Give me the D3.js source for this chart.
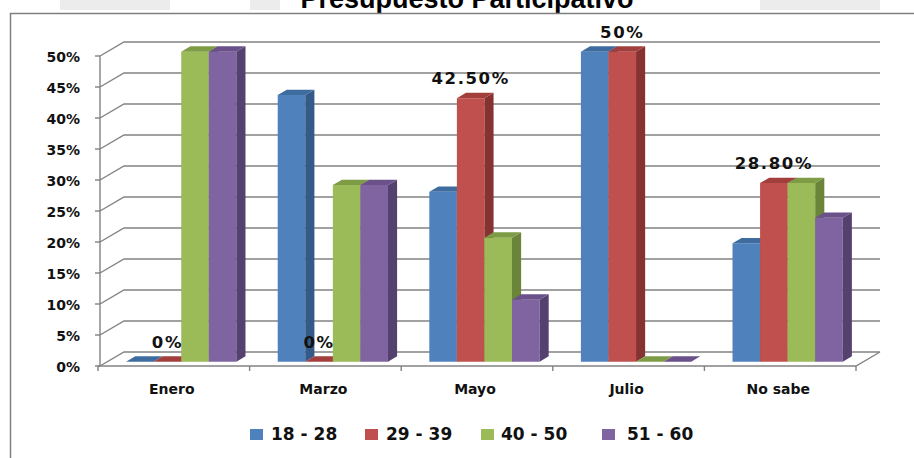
<!DOCTYPE html>
<html>
<head>
<meta charset="utf-8">
<script src="https://cdn.jsdelivr.net/npm/d3@7/dist/d3.min.js"></script>
<style>
  html, body { margin: 0; padding: 0; background: #ffffff; }
  svg { display: block; }
</style>
</head>
<body>
<div id="chart"></div>
<script>
// ---- data ----
const title = "Presupuesto Participativo";
const categories = ["Enero", "Marzo", "Mayo", "Julio", "No sabe"];
const seriesNames = ["18 - 28", "29 - 39", "40 - 50", "51 - 60"];
const s18_28 = [0, 0.43, 0.274, 0.50, 0.191];
const s29_39 = [0, 0, 0.425, 0.50, 0.288];
const s40_50 = [0.50, 0.285, 0.20, 0, 0.288];
const s51_60 = [0.50, 0.285, 0.10, 0, 0.232];
const labelSeriesIndex = 1;
const dataLabels = ["0%", "0%", "42.50%", "50%", "28.80%"];
const yTicks = [0, 0.05, 0.10, 0.15, 0.20, 0.25, 0.30, 0.35, 0.40, 0.45, 0.50];
const yTickLabels = ["0%", "5%", "10%", "15%", "20%", "25%", "30%", "35%", "40%", "45%", "50%"];

const seriesValues = [s18_28, s29_39, s40_50, s51_60];
const colors = [
  { front: "#4F81BD", top: "#3F6C9F", side: "#335A88" },
  { front: "#C0504D", top: "#A23F3C", side: "#863230" },
  { front: "#9BBB59", top: "#7E9B46", side: "#6A853A" },
  { front: "#8064A2", top: "#6A5189", side: "#55416F" }
];

// ---- layout ----
const W = 914, H = 458;
const X0 = 98, X1 = 856;           // front plane x extent
const DX = 24, DY = -14;           // full depth vector
const F0 = 0.31, F1 = 0.69;        // bar depth range (fraction)

const svg = d3.select("#chart").append("svg")
  .attr("width", W).attr("height", H);

svg.append("rect").attr("width", W).attr("height", H).attr("fill", "#ffffff");

// faint watermark blocks at top
const wm = svg.append("g").attr("fill", "#ececec");
[[60, 0, 110, 10], [250, 0, 30, 10], [760, 0, 120, 10]].forEach(r =>
  wm.append("rect").attr("x", r[0]).attr("y", r[1]).attr("width", r[2]).attr("height", r[3]));

// title
svg.append("text")
  .attr("x", 467).attr("y", 8)
  .attr("text-anchor", "middle")
  .attr("font-family", "Liberation Sans, Arial, sans-serif")
  .attr("font-weight", "bold")
  .attr("font-size", 27)
  .attr("fill", "#000")
  .text(title);

// outer border
svg.append("rect")
  .attr("x", 10.5).attr("y", 13.5)
  .attr("width", 940).attr("height", 480)
  .attr("fill", "none").attr("stroke", "#7f7f7f").attr("stroke-width", 1.5);

// scales
const y = d3.scaleLinear().domain([0, 0.5]).range([366, 56]);
const xCat = d3.scaleBand().domain(categories).range([X0, X1]).paddingInner(0).paddingOuter(0);
const xSer = d3.scaleBand().domain(seriesNames).range([0, xCat.bandwidth()]).paddingInner(0).paddingOuter(0.75);

const P = (x, yy, f) => [x + f * DX, yy + f * DY];
const pathOf = pts => "M" + pts.map(p => p[0].toFixed(2) + "," + p[1].toFixed(2)).join("L") + "Z";

const gridColor = "#828282";
const grid = svg.append("g").attr("stroke", gridColor).attr("stroke-width", 1.4).attr("fill", "none");

// back wall gridlines + side wall diagonals
yTicks.forEach(t => {
  const yy = y(t);
  const a = P(X0 + 2, yy, 0), b = P(X0 + 2, yy, 1), c = P(X1, yy, 1);
  grid.append("path").attr("d", `M${a[0]},${a[1]}L${b[0]},${b[1]}L${c[0]},${c[1]}`);
});
// floor front edge & right edge
{
  const a = P(X0, y(0), 0), b = P(X1, y(0), 0), c = P(X1, y(0), 1);
  grid.append("path").attr("d", `M${a[0]},${a[1]}L${b[0]},${b[1]}L${c[0]},${c[1]}`);
}
// front vertical axis with ticks
grid.append("line").attr("x1", X0 + 2).attr("x2", X0 + 2).attr("y1", y(0)).attr("y2", y(0.5));
yTicks.forEach(t => {
  grid.append("line").attr("x1", X0 - 3).attr("x2", X0 + 2).attr("y1", y(t)).attr("y2", y(t));
});
// category ticks
const catEdges = categories.map(c => xCat(c)).concat([X1]);
catEdges.forEach(xx => {
  grid.append("line").attr("x1", xx).attr("x2", xx).attr("y1", y(0)).attr("y2", y(0) + 5);
});

// y tick labels
svg.append("g").selectAll("text").data(yTicks).join("text")
  .attr("x", 80).attr("y", d => y(d) + 1)
  .attr("dy", "0.36em")
  .attr("text-anchor", "end")
  .attr("font-family", "DejaVu Sans, Verdana, sans-serif")
  .attr("font-weight", "bold").attr("font-size", 14)
  .attr("fill", "#111")
  .text((d, i) => yTickLabels[i]);

// x labels
svg.append("g").selectAll("text").data(categories).join("text")
  .attr("x", d => xCat(d) + xCat.bandwidth() / 2 - 2)
  .attr("y", 394)
  .attr("text-anchor", "middle")
  .attr("font-family", "DejaVu Sans, Verdana, sans-serif")
  .attr("font-weight", "bold").attr("font-size", 14)
  .attr("fill", "#111")
  .text(d => d);

// bars
const bars = svg.append("g");
categories.forEach((cat, ci) => {
  seriesNames.forEach((s, si) => {
    const v = seriesValues[si][ci];
    const xl = xCat(cat) + xSer(s);
    const xr = xl + xSer.bandwidth();
    const yb = y(0), yt = y(v);
    const col = colors[si];
    const g = bars.append("g");
    if (v > 0) {
      g.append("path").attr("d", pathOf([P(xl, yb, F0), P(xr, yb, F0), P(xr, yt, F0), P(xl, yt, F0)]))
        .attr("fill", col.front);
      g.append("path").attr("d", pathOf([P(xr, yb, F0), P(xr, yb, F1), P(xr, yt, F1), P(xr, yt, F0)]))
        .attr("fill", col.side);
    }
    g.append("path").attr("d", pathOf([P(xl, yt, F0), P(xr, yt, F0), P(xr, yt, F1), P(xl, yt, F1)]))
      .attr("fill", col.top);
  });
});

// data labels (on series 29 - 39)
svg.append("g").selectAll("text").data(categories).join("text")
  .attr("x", (d) => xCat(d) + xSer(seriesNames[labelSeriesIndex]) + xSer.bandwidth() / 2 + F0 * DX)
  .attr("y", (d, i) => y(seriesValues[labelSeriesIndex][i]) + F0 * DY - 14)
  .attr("text-anchor", "middle")
  .attr("font-family", "DejaVu Sans, Verdana, sans-serif")
  .attr("font-weight", "bold").attr("font-size", 16.5)
  .attr("letter-spacing", 1.6)
  .attr("fill", "#111")
  .text((d, i) => dataLabels[i]);

// legend
const legendX = [250, 365, 481, 602];
const legendTextX = [271, 386, 501, 627];
const lg = svg.append("g");
seriesNames.forEach((s, i) => {
  lg.append("rect").attr("x", legendX[i]).attr("y", 429).attr("width", 13).attr("height", 11)
    .attr("fill", colors[i].front);
  lg.append("text").attr("x", legendTextX[i]).attr("y", 440)
    .attr("font-family", "DejaVu Sans, Verdana, sans-serif")
    .attr("font-weight", "bold").attr("font-size", 17)
    .attr("fill", "#111")
    .text(s);
});
</script>
</body>
</html>
